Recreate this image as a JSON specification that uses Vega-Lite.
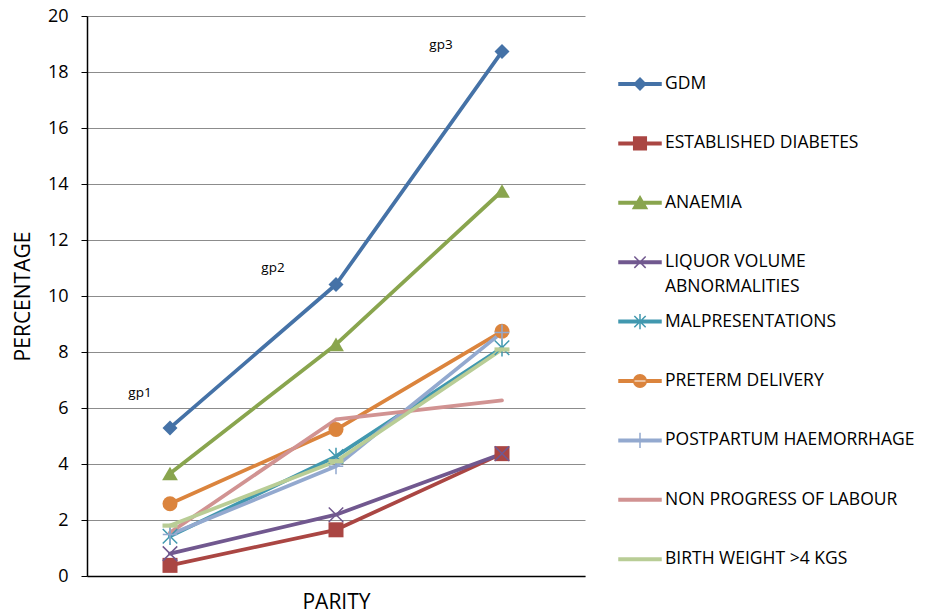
{
  "$schema": "https://vega.github.io/schema/vega-lite/v6.json",
  "width": 498,
  "height": 560,
  "autosize": "none",
  "padding": {"left": 87, "top": 16, "right": 347, "bottom": 37},
  "background": "white",
  "config": {
    "view": {"stroke": null},
    "font": "Open Sans",
    "style": {"guide-label": {"lineHeight": 25}}
  },
  "data": {
    "values": [
      {"series": "GDM", "parity": "gp1", "pct": 5.29},
      {"series": "GDM", "parity": "gp2", "pct": 10.41},
      {"series": "GDM", "parity": "gp3", "pct": 18.73},
      {"series": "ESTABLISHED DIABETES", "parity": "gp1", "pct": 0.38},
      {"series": "ESTABLISHED DIABETES", "parity": "gp2", "pct": 1.65},
      {"series": "ESTABLISHED DIABETES", "parity": "gp3", "pct": 4.37},
      {"series": "ANAEMIA", "parity": "gp1", "pct": 3.66},
      {"series": "ANAEMIA", "parity": "gp2", "pct": 8.27},
      {"series": "ANAEMIA", "parity": "gp3", "pct": 13.75},
      {"series": "LIQUOR VOLUME ABNORMALITIES", "parity": "gp1", "pct": 0.8},
      {"series": "LIQUOR VOLUME ABNORMALITIES", "parity": "gp2", "pct": 2.19},
      {"series": "LIQUOR VOLUME ABNORMALITIES", "parity": "gp3", "pct": 4.37},
      {"series": "MALPRESENTATIONS", "parity": "gp1", "pct": 1.42},
      {"series": "MALPRESENTATIONS", "parity": "gp2", "pct": 4.27},
      {"series": "MALPRESENTATIONS", "parity": "gp3", "pct": 8.15},
      {"series": "PRETERM DELIVERY", "parity": "gp1", "pct": 2.58},
      {"series": "PRETERM DELIVERY", "parity": "gp2", "pct": 5.23},
      {"series": "PRETERM DELIVERY", "parity": "gp3", "pct": 8.74},
      {"series": "POSTPARTUM HAEMORRHAGE", "parity": "gp1", "pct": 1.48},
      {"series": "POSTPARTUM HAEMORRHAGE", "parity": "gp2", "pct": 3.92},
      {"series": "POSTPARTUM HAEMORRHAGE", "parity": "gp3", "pct": 8.7},
      {"series": "NON PROGRESS OF LABOUR", "parity": "gp1", "pct": 1.55},
      {"series": "NON PROGRESS OF LABOUR", "parity": "gp2", "pct": 5.59},
      {"series": "NON PROGRESS OF LABOUR", "parity": "gp3", "pct": 6.27},
      {"series": "BIRTH WEIGHT >4 KGS", "parity": "gp1", "pct": 1.8},
      {"series": "BIRTH WEIGHT >4 KGS", "parity": "gp2", "pct": 4.1},
      {"series": "BIRTH WEIGHT >4 KGS", "parity": "gp3", "pct": 8.09}
    ]
  },
  "encoding": {
    "x": {
      "field": "parity",
      "type": "nominal",
      "scale": {"type": "point", "padding": 0.5},
      "axis": {
        "title": "PARITY",
        "labels": false,
        "ticks": false,
        "grid": false,
        "domainColor": "#000000",
        "domainWidth": 1.5,
        "titleFont": "Open Sans",
        "titleFontSize": 21,
        "titleFontWeight": "normal",
        "titleColor": "#000000",
        "titlePadding": 15
      }
    },
    "y": {
      "field": "pct",
      "type": "quantitative",
      "scale": {"domain": [0, 20], "nice": false, "zero": true},
      "axis": {
        "title": "PERCENTAGE",
        "values": [0, 2, 4, 6, 8, 10, 12, 14, 16, 18, 20],
        "grid": true,
        "gridColor": "#8c8c8c",
        "gridWidth": 1,
        "domainColor": "#000000",
        "domainWidth": 1.5,
        "tickColor": "#000000",
        "tickSize": 6,
        "tickWidth": 1,
        "labelFont": "Open Sans",
        "labelFontSize": 18,
        "labelColor": "#000000",
        "labelPadding": 13,
        "titleFont": "Open Sans",
        "titleFontSize": 21,
        "titleFontWeight": "normal",
        "titleColor": "#000000",
        "titlePadding": 14
      }
    },
    "color": {
      "field": "series",
      "type": "nominal",
      "sort": null,
      "scale": {
        "domain": ["GDM", "ESTABLISHED DIABETES", "ANAEMIA", "LIQUOR VOLUME ABNORMALITIES", "MALPRESENTATIONS", "PRETERM DELIVERY", "POSTPARTUM HAEMORRHAGE", "NON PROGRESS OF LABOUR", "BIRTH WEIGHT >4 KGS"],
        "range": ["#4572A7", "#AA4643", "#89A54E", "#71588F", "#4198AF", "#DB843D", "#93A9CF", "#D19392", "#B9CD96"]
      },
      "legend": {
        "title": null,
        "orient": "none",
        "legendX": 531,
        "legendY": 46,
        "padding": 0,
        "symbolSize": 1764,
        "symbolStrokeWidth": 1.5,
        "symbolOpacity": 1,
        "rowPadding": 3.4,
        "labelOffset": 3,
        "labelFont": "Open Sans",
        "labelFontSize": 17.5,
        "labelColor": "#000000",
        "labelLimit": 400,
        "labelBaseline": "middle",
        "labelLineHeight": 25,
        "labelExpr": "datum.label == 'LIQUOR VOLUME ABNORMALITIES' ? ['LIQUOR VOLUME', 'ABNORMALITIES'] : [datum.label, '']"
      }
    }
  },
  "layer": [
    {
      "mark": {"type": "line", "strokeWidth": 3.75, "strokeJoin": "round", "strokeCap": "round"}
    },
    {
      "transform": [{"filter": "datum.series == 'GDM'"}],
      "mark": {"type": "point", "shape": "diamond", "filled": true, "size": 225, "opacity": 1}
    },
    {
      "transform": [{"filter": "datum.series == 'ESTABLISHED DIABETES'"}],
      "mark": {"type": "point", "shape": "square", "filled": true, "size": 225, "opacity": 1}
    },
    {
      "transform": [{"filter": "datum.series == 'ANAEMIA'"}],
      "mark": {"type": "point", "shape": "triangle-up", "filled": true, "size": 250, "opacity": 1}
    },
    {
      "transform": [{"filter": "datum.series == 'LIQUOR VOLUME ABNORMALITIES'"}],
      "mark": {"type": "point", "shape": "M-1,-1L1,1M-1,1L1,-1", "filled": false, "strokeWidth": 1.5, "size": 210, "opacity": 1}
    },
    {
      "transform": [{"filter": "datum.series == 'MALPRESENTATIONS'"}],
      "mark": {"type": "point", "shape": "M-1,-1L1,1M-1,1L1,-1M0,-1.2V1.2", "filled": false, "strokeWidth": 1.5, "size": 210, "opacity": 1}
    },
    {
      "transform": [{"filter": "datum.series == 'PRETERM DELIVERY'"}],
      "mark": {"type": "point", "shape": "circle", "filled": true, "size": 225, "opacity": 1}
    },
    {
      "transform": [{"filter": "datum.series == 'POSTPARTUM HAEMORRHAGE'"}],
      "mark": {"type": "point", "shape": "M-1,0H1M0,-1.1V1.1", "filled": false, "strokeWidth": 1.5, "size": 210, "opacity": 1}
    },
    {
      "transform": [{"filter": "datum.series == 'BIRTH WEIGHT >4 KGS'"}],
      "mark": {"type": "point", "shape": "M-1,-0.28H1V0.28H-1Z", "filled": true, "size": 225, "opacity": 1}
    },
    {
      "transform": [{"filter": "false"}],
      "mark": {"type": "point", "filled": true, "size": 1764, "opacity": 0},
      "encoding": {
        "stroke": {
          "field": "series",
          "type": "nominal",
          "sort": null,
          "scale": {
            "domain": ["GDM", "ESTABLISHED DIABETES", "ANAEMIA", "LIQUOR VOLUME ABNORMALITIES", "MALPRESENTATIONS", "PRETERM DELIVERY", "POSTPARTUM HAEMORRHAGE", "NON PROGRESS OF LABOUR", "BIRTH WEIGHT >4 KGS"],
            "range": ["#4572A7", "#AA4643", "#89A54E", "#71588F", "#4198AF", "#DB843D", "#93A9CF", "#D19392", "#B9CD96"]
          }
        },
        "shape": {
          "field": "series",
          "type": "nominal",
          "sort": null,
          "scale": {
            "domain": ["GDM", "ESTABLISHED DIABETES", "ANAEMIA", "LIQUOR VOLUME ABNORMALITIES", "MALPRESENTATIONS", "PRETERM DELIVERY", "POSTPARTUM HAEMORRHAGE", "NON PROGRESS OF LABOUR", "BIRTH WEIGHT >4 KGS"],
            "range": [
              "M-1,-0.06H1V0.06H-1Z M0,-0.28L0.28,0L0,0.28L-0.28,0Z",
              "M-1,-0.06H1V0.06H-1Z M-0.3,-0.3H0.3V0.3H-0.3Z",
              "M-1,-0.06H1V0.06H-1Z M0,-0.3L0.33,0.27H-0.33Z",
              "M-1,-0.06H1V0.06H-1Z M-0.27,-0.27L0.27,0.27M-0.27,0.27L0.27,-0.27",
              "M-1,-0.06H1V0.06H-1Z M-0.27,-0.27L0.27,0.27M-0.27,0.27L0.27,-0.27M0,-0.36V0.36",
              "M-1,-0.06H1V0.06H-1Z M-0.3,0A0.3,0.3,0,1,0,0.3,0A0.3,0.3,0,1,0,-0.3,0Z",
              "M-1,-0.06H1V0.06H-1Z M0,-0.36V0.36",
              "M-1,-0.06H1V0.06H-1Z",
              "M-1,-0.06H1V0.06H-1Z"
            ]
          }
        }
      }
    },
    {
      "transform": [{"filter": "datum.series == 'GDM' && datum.parity == 'gp1'"}],
      "mark": {"type": "text", "font": "Open Sans", "fontSize": 13.5, "dx": -30, "dy": -35},
      "encoding": {"text": {"field": "parity"}, "color": {"value": "#000000"}}
    },
    {
      "transform": [{"filter": "datum.series == 'GDM' && datum.parity == 'gp2'"}],
      "mark": {"type": "text", "font": "Open Sans", "fontSize": 13.5, "dx": -63, "dy": -17},
      "encoding": {"text": {"field": "parity"}, "color": {"value": "#000000"}}
    },
    {
      "transform": [{"filter": "datum.series == 'GDM' && datum.parity == 'gp3'"}],
      "mark": {"type": "text", "font": "Open Sans", "fontSize": 13.5, "dx": -61, "dy": -7},
      "encoding": {"text": {"field": "parity"}, "color": {"value": "#000000"}}
    }
  ]
}
